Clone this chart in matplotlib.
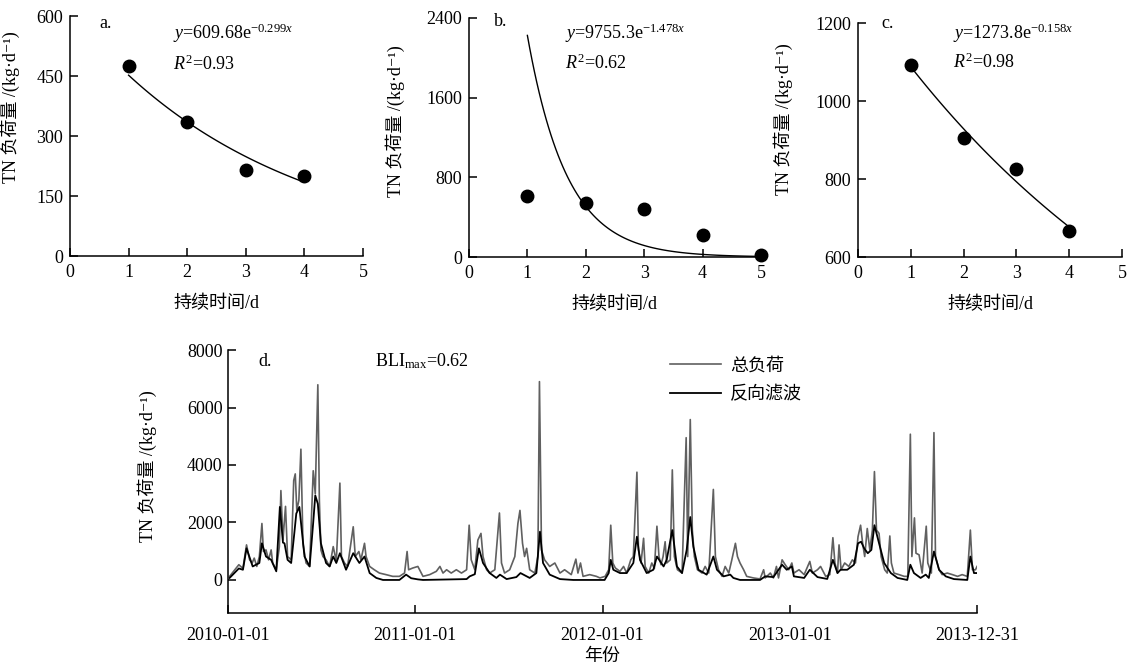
import numpy as np
import matplotlib
matplotlib.use('Agg')
import matplotlib.pyplot as plt
import matplotlib.dates as mdates

plt.rcParams['font.family'] = ['Liberation Serif', 'Noto Sans CJK SC', 'DejaVu Serif']
plt.rcParams['mathtext.fontset'] = 'custom'
plt.rcParams['mathtext.rm'] = 'Liberation Serif'
plt.rcParams['mathtext.it'] = 'Liberation Serif:italic'
plt.rcParams['axes.unicode_minus'] = False

# panels a-c: load vs. duration, with fitted exponential curves
dur_a = [1, 2, 3, 4]
load_a = [475, 335, 215, 200]
fit_a = (609.68, -0.299)

dur_b = [1, 2, 3, 4, 5]
load_b = [615, 540, 480, 220, 20]
fit_b = (9755.3, -1.478)

dur_c = [1, 2, 3, 4]
load_c = [1092, 905, 825, 666]
fit_c = (1273.8, -0.158)

# panel d: daily TN load (days since 2010-01-01)
total_day = [3, 21, 29, 36, 42, 47, 51, 56, 61, 66, 69, 74, 79, 84, 87, 94, 100, 103, 107, 112,
             116, 123, 128, 131, 134, 138, 142, 146, 152, 159, 166, 170, 175, 178, 181, 185, 191,
             198, 205, 211, 218, 221, 227, 233, 244, 248, 255, 259, 266, 269, 276, 285, 295, 308,
             321, 334, 344, 349, 352, 360, 370,
             380, 393, 406, 413, 419, 426, 435, 445, 455, 465, 470, 474, 481, 487, 493, 497, 504,
             510, 520, 529, 533, 539, 549, 559, 565, 569, 574, 578, 582, 588, 598, 604, 607, 611,
             617, 627, 637, 647, 656, 669, 678, 682, 687, 692, 705, 718, 725,
             735, 742, 746, 750, 755, 764, 771, 777, 785, 790, 797, 800, 805, 810, 813, 820, 826,
             831, 836, 840, 844, 848, 852, 855, 862, 866, 870, 876, 885, 893, 896, 901, 905, 909,
             915, 924, 930, 937, 946, 950, 956, 963, 969, 976, 982, 989, 993, 998, 1005, 1011,
             1024, 1037, 1044, 1047, 1057, 1063, 1069, 1073, 1080, 1086, 1093, 1099,
             1103, 1113, 1123, 1134, 1139, 1149, 1155, 1165, 1173, 1179, 1183, 1188, 1191, 1195,
             1202, 1210, 1217, 1223, 1228, 1233, 1237, 1241, 1246, 1251, 1256, 1260, 1264, 1269,
             1273, 1280, 1285, 1290, 1293, 1298, 1308, 1318, 1325, 1330, 1333, 1338, 1341, 1347,
             1353, 1361, 1364, 1371, 1376, 1379, 1386, 1392, 1402, 1412, 1422, 1431, 1441, 1447,
             1451, 1457, 1460]
total_val = [125, 530, 400, 1220, 700, 590, 760, 470, 815, 1965, 990, 1045, 700, 1045, 590, 355,
             1160, 3110, 1390, 2560, 815, 700, 3460, 3690, 2420, 2770, 4550, 1275, 590, 470, 3800,
             3000, 6790, 2770, 1045, 815, 700, 470, 1160, 645, 3370, 815, 590, 470, 1850, 815, 990,
             700, 1275, 815, 470, 355, 240, 185, 125, 125, 240, 990, 355, 415, 470,
             125, 185, 300, 470, 240, 355, 240, 355, 240, 355, 1905, 700, 355, 1390, 1620, 815,
             355, 240, 355, 2330, 590, 240, 355, 815, 1965, 2420, 1275, 815, 1100, 355, 240, 815,
             6900, 1045, 700, 470, 590, 240, 355, 185, 725, 240, 590, 125, 185, 125, 70,
             125, 355, 1905, 590, 415, 300, 470, 240, 700, 815, 3750, 1045, 590, 1450, 470, 240,
             590, 400, 1870, 815, 530, 815, 1330, 590, 700, 3830, 815, 355, 240, 4950, 815, 5580,
             1735, 815, 355, 240, 470, 240, 3150, 815, 355, 125, 470, 240, 700, 1275, 815, 590,
             355, 125, 70, 35, 355, 70, 240, 70, 470, 70, 700, 530, 355, 590,
             240, 355, 185, 645, 240, 355, 470, 125, 185, 1470, 590, 240, 1220, 355, 590, 470,
             700, 590, 1505, 1905, 1275, 815, 1790, 1045, 1735, 3770, 1735, 1620, 815, 355, 240,
             1530, 590, 240, 185, 125, 125, 5070, 815, 2160, 930, 875, 240, 1870, 590, 240, 5125,
             815, 355, 185, 240, 185, 125, 185, 125, 1735, 355, 355, 470]

base_day = [3, 21, 29, 36, 48, 61, 66, 74, 84, 94, 101, 107, 110, 116, 123, 129, 133, 139, 149,
            159, 166, 170, 175, 181, 191, 198, 205, 211, 218, 230, 244, 256, 266, 276, 289, 302,
            334, 347, 357, 370,
            380, 465, 471, 481, 489, 497, 510, 523, 530, 543, 562, 570, 588, 601, 608, 614, 627,
            647, 673, 734,
            742, 746, 751, 764, 777, 790, 797, 803, 816, 829, 836, 849, 855, 866, 875, 885, 894,
            901, 907, 917, 933, 946, 953, 966, 979, 985, 998, 1037, 1047, 1063, 1080, 1089, 1099,
            1103, 1123, 1134, 1149, 1168, 1179, 1188, 1194, 1207, 1220, 1228, 1234, 1240, 1247,
            1254, 1260, 1269, 1279, 1292, 1305, 1324, 1330, 1337, 1350, 1360, 1366, 1376, 1386,
            1399, 1415, 1441, 1447, 1454, 1460]
base_val = [70, 400, 355, 1100, 470, 590, 1275, 815, 700, 300, 2540, 1300, 1275, 700, 590, 1600,
            2310, 2540, 815, 470, 2000, 2940, 2650, 1275, 590, 470, 815, 590, 930, 355, 930, 590,
            815, 240, 70, 0, 0, 185, 60, 20,
            0, 30, 125, 200, 1100, 590, 240, 70, 185, 30, 100, 240, 70, 240, 1680, 590, 185,
            30, 0, 0,
            240, 700, 355, 240, 240, 590, 1505, 700, 240, 355, 815, 470, 700, 1735, 470, 240, 1045,
            2190, 1160, 355, 185, 815, 355, 125, 185, 70, 0, 0, 125, 100, 530, 355, 470,
            125, 70, 355, 100, 35, 700, 240, 355, 355, 530, 1275, 1330, 1100, 930,
            1045, 1905, 1275, 590, 240, 70, 0, 530, 240, 70, 185, 70, 990, 355,
            125, 30, 0, 815, 240, 240]

year_ticks = ['2010-01-01', '2011-01-01', '2012-01-01', '2013-01-01', '2013-12-31']

ylab = 'TN 负荷量 /(kg·d⁻¹)'
FS = 13


def style(ax):
    for s in ['top', 'right']:
        ax.spines[s].set_visible(False)
    for s in ['left', 'bottom']:
        ax.spines[s].set_linewidth(1.1)
    ax.tick_params(direction='in', length=5.5, width=1.1, labelsize=FS)


def fit_panel(ax, dur, load, fit, x1, ylim, yticks, tag, r2, lab_xy, txt_y):
    xs = np.linspace(1, x1, 100)
    ax.plot(xs, fit[0] * np.exp(fit[1] * xs), color='black', lw=1.0)
    ax.plot(dur, load, 'o', color='black', ms=9, clip_on=False)
    ax.set_xlim(0, 5)
    ax.set_ylim(*ylim)
    ax.set_xticks(range(6))
    ax.set_yticks(yticks)
    style(ax)
    ax.tick_params(axis='x', pad=6)
    ax.tick_params(axis='y', pad=5)
    ax.set_xlabel('持续时间/d', fontsize=FS, labelpad=10)
    ax.set_ylabel(ylab, fontsize=FS)
    ax.yaxis.set_label_coords(*lab_xy)
    ax.text(txt_y[0], txt_y[1], tag + '.', transform=ax.transAxes, fontsize=FS, va='center')
    ax.text(txt_y[2], txt_y[3], r'$y$=%se$^{%s x}$' % (fit[0], fit[1]),
            transform=ax.transAxes, fontsize=FS, va='center')
    ax.text(txt_y[2], txt_y[4], r'$R^{2}$=' + r2, transform=ax.transAxes, fontsize=FS, va='center')


fig = plt.figure(figsize=(11.29, 6.69), dpi=100)

ax_a = fig.add_axes([0.0620, 0.6173, 0.2595, 0.3587])
fit_panel(ax_a, dur_a, load_a, fit_a, 4, (0, 600), [0, 150, 300, 450, 600], 'a', '0.93',
          (-0.17, 0.62), (0.10, 0.97, 0.35, 0.93, 0.80))

ax_b = fig.add_axes([0.4154, 0.6158, 0.2586, 0.3573])
fit_panel(ax_b, dur_b, load_b, fit_b, 5, (0, 2400), [0, 800, 1600, 2400], 'b', '0.62',
          (-0.22, 0.57), (0.086, 0.985, 0.33, 0.937, 0.81))

ax_c = fig.add_axes([0.760, 0.6158, 0.2338, 0.3498])
fit_panel(ax_c, dur_c, load_c, fit_c, 4, (600, 1200), [600, 800, 1000, 1200], 'c', '0.98',
          (-0.246, 0.59), (0.087, 0.996, 0.36, 0.957, 0.83))

# panel d
t0 = np.datetime64('2010-01-01')
t_total = t0 + np.array(total_day).astype('timedelta64[D]')
t_base = t0 + np.array(base_day).astype('timedelta64[D]')

ax_d = fig.add_axes([0.2020, 0.0837, 0.6634, 0.3931])
ax_d.plot(t_total, total_val, color='#606060', lw=1.2, label='总负荷')
ax_d.plot(t_base, base_val, color='black', lw=1.3, label='反向滤波')
ax_d.set_xlim(np.datetime64('2010-01-01'), np.datetime64('2013-12-31'))
ax_d.set_ylim(-1150, 8000)
ax_d.set_yticks([0, 2000, 4000, 6000, 8000])
ax_d.set_xticks([np.datetime64(d) for d in year_ticks])
ax_d.xaxis.set_major_formatter(mdates.DateFormatter('%Y-%m-%d'))
style(ax_d)
ax_d.tick_params(axis='x', pad=10)
ax_d.tick_params(axis='y', pad=4)
ax_d.set_xlabel('年份', fontsize=FS, labelpad=3)
ax_d.set_ylabel(ylab, fontsize=FS)
ax_d.yaxis.set_label_coords(-0.095, 0.56)
ax_d.text(0.04, 0.958, 'd.', transform=ax_d.transAxes, fontsize=FS, va='center')
ax_d.text(0.196, 0.958, r'BLI$_{\rm max}$=0.62', transform=ax_d.transAxes, fontsize=FS, va='center')
ax_d.legend(loc='upper left', bbox_to_anchor=(0.59, 0.972), frameon=False, fontsize=FS,
            handlelength=2.8, handletextpad=0.55, labelspacing=0.62, borderpad=0, borderaxespad=0)

fig.savefig('out.png', dpi=100)
